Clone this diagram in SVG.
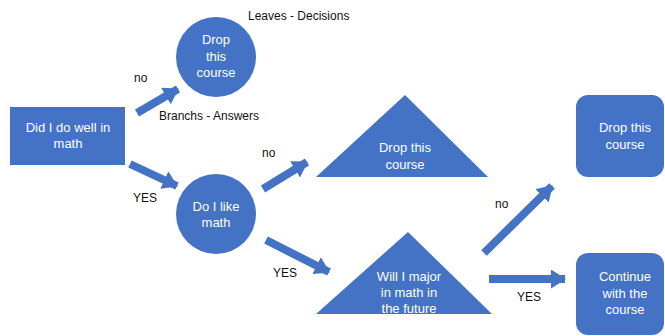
<svg xmlns="http://www.w3.org/2000/svg" width="665" height="336" viewBox="0 0 665 336">
<style>
.n{fill:#4472C4}
.t{fill:#fff;font-family:"Liberation Sans",Arial,sans-serif;font-size:13px;text-anchor:middle}
.l{fill:#111;font-family:"Liberation Sans",Arial,sans-serif;font-size:12px}
.c line{stroke:#4472C4;stroke-width:8}
</style>
<defs>
<marker id="ah" markerUnits="userSpaceOnUse" markerWidth="15" markerHeight="19" refX="14" refY="9.5" orient="auto">
<path d="M0,0 L15,9.5 L0,19 Z" fill="#4472C4"/>
</marker>
</defs>
<rect width="665" height="336" fill="#fff"/>
<g class="c" id="connectors">
<line x1="137" y1="113" x2="178" y2="89" marker-end="url(#ah)"/>
<line x1="130" y1="164" x2="177" y2="186" marker-end="url(#ah)"/>
<line x1="263" y1="189" x2="307" y2="162" marker-end="url(#ah)"/>
<line x1="266" y1="240" x2="329" y2="272" marker-end="url(#ah)"/>
<line x1="484" y1="253" x2="552" y2="186" marker-end="url(#ah)"/>
<line x1="489" y1="279" x2="565" y2="279" marker-end="url(#ah)"/>
</g>
<g id="n1"><rect class="n" x="10" y="107" width="115" height="58"/>
<text class="t" x="68" y="132">Did I do well in</text><text class="t" x="68" y="148">math</text></g>
<g id="n2"><circle class="n" cx="216" cy="57" r="40"/>
<text class="t" x="216" y="44">Drop</text><text class="t" x="216" y="61">this</text><text class="t" x="216" y="77">course</text></g>
<g id="n3"><circle class="n" cx="216" cy="214" r="40"/>
<text class="t" x="216" y="211">Do I like</text><text class="t" x="216" y="227">math</text></g>
<g id="n4"><polygon class="n" points="405,95 488,177 316,177"/>
<text class="t" x="405" y="152">Drop this</text><text class="t" x="405" y="169">course</text></g>
<g id="n5"><polygon class="n" points="408,232 492,314 316,314"/>
<text class="t" x="409" y="281">Will I major</text><text class="t" x="409" y="297">in math in</text><text class="t" x="409" y="313">the future</text></g>
<g id="n6"><rect class="n" x="576" y="95" width="88" height="82" rx="12"/>
<text class="t" x="625" y="132">Drop this</text><text class="t" x="625" y="149">course</text></g>
<g id="n7"><rect class="n" x="576" y="253" width="88" height="82" rx="12"/>
<text class="t" x="625" y="281">Continue</text><text class="t" x="625" y="298">with the</text><text class="t" x="625" y="314">course</text></g>
<g id="labels">
<text class="l" x="248" y="20">Leaves - Decisions</text>
<text class="l" x="159" y="120">Branchs - Answers</text>
<text class="l" x="134" y="82">no</text>
<text class="l" x="262" y="157">no</text>
<text class="l" x="495" y="208">no</text>
<text class="l" x="133" y="202">YES</text>
<text class="l" x="273" y="277">YES</text>
<text class="l" x="517" y="301">YES</text>
</g>
</svg>
